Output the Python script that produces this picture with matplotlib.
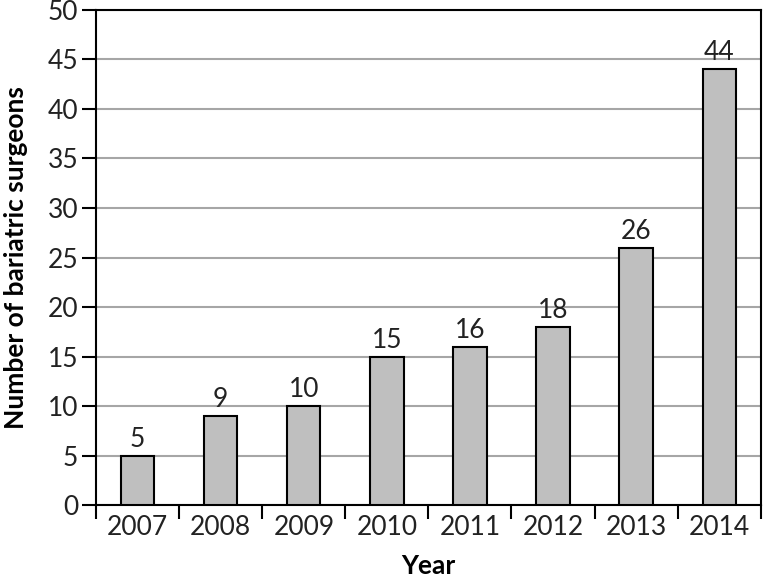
import matplotlib
matplotlib.use("Agg")
import matplotlib.pyplot as plt
import numpy as np

years = ["2007", "2008", "2009", "2010", "2011", "2012", "2013", "2014"]
surgeons = [5, 9, 10, 15, 16, 18, 26, 44]
y_ticks = [0, 5, 10, 15, 20, 25, 30, 35, 40, 45, 50]

plt.rcParams['font.family'] = ['Lato', 'DejaVu Sans']

fig = plt.figure(figsize=(7.63, 5.80), dpi=100)
ax = fig.add_axes([0.126, 0.129, 0.871, 0.854])

x = np.arange(len(years))
ax.bar(x, surgeons, width=0.4, color='#bfbfbf', edgecolor='black', linewidth=1.5, zorder=3)
for xi, v in zip(x, surgeons):
    ax.text(xi, v + 0.4, str(v), ha='center', va='bottom', fontsize=19, color='#222222')

ax.set_xlim(-0.5, len(years) - 0.5)
ax.set_ylim(0, 50)
ax.set_yticks(y_ticks)
ax.set_yticklabels([str(t) for t in y_ticks], fontsize=19, color='#222222')
ax.set_xticks(x)
ax.set_xticklabels(years, fontsize=19, color='#222222')
ax.tick_params(axis='x', length=0, pad=7)
ax.set_xticks(np.arange(-0.5, len(years)), minor=True)
ax.tick_params(axis='x', which='minor', length=10, width=1.5, direction='out')
ax.tick_params(axis='y', length=10, width=1.5, direction='out', pad=3)

ax.grid(axis='y', color='#a6a6a6', linewidth=1.5, zorder=0)
for s in ax.spines.values():
    s.set_linewidth(1.5)

ax.set_xlabel('Year', fontsize=19, fontweight='bold', labelpad=10)
ax.set_ylabel('Number of bariatric surgeons', fontsize=19, fontweight='bold', labelpad=14)

fig.savefig('out.png', dpi=100)
